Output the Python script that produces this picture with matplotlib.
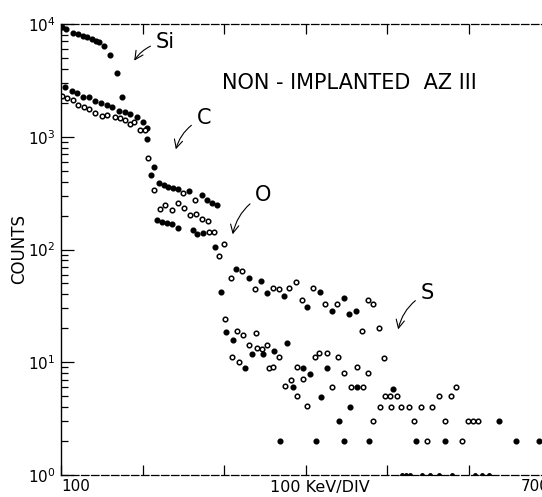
import matplotlib
matplotlib.use("Agg")
import matplotlib.pyplot as plt
from matplotlib.ticker import LogLocator, NullFormatter

# channel (energy) / counts
# filled markers
top_ch = [101, 106, 115, 121, 127, 132, 138, 143, 147, 153, 160, 169, 175]
top_counts = [9400, 9030, 8320, 8150, 7830, 7670, 7360, 7070, 6920, 6380, 5310, 3670, 2250]

band_ch = [105, 113, 120, 127, 134, 142, 149, 156, 163, 171, 179, 185, 193, 201, 206]
band_counts = [2760, 2550, 2450, 2250, 2250, 2080, 1990, 1910, 1840, 1690, 1660, 1590, 1500, 1350, 1200]

filled_ch = [206, 214, 210,
             220, 226, 231, 237, 244, 257, 273, 279, 285, 291,
             218, 224, 230, 236, 244, 262, 267, 274,
             289, 296, 302,
             315, 331, 345, 353, 374, 418, 402, 433, 447, 453, 462,
             311, 361, 377, 326, 334, 348, 397, 406, 426,
             385, 463, 507, 419, 455, 441, 637,
             369, 413, 447, 478, 536, 571, 658, 687]
filled_counts = [955, 539, 458,
                 389, 373, 358, 351, 344, 330, 304, 275, 259, 248,
                 183, 175, 172, 168, 155, 149, 137, 140,
                 105, 42, 18.5,
                 67, 56, 53, 41, 39, 42, 31, 28.5, 37, 27, 28.5,
                 15.7, 12.6, 14.8, 8.9, 11.8, 11.8, 8.9, 7.9, 8.9,
                 6.0, 6.0, 5.8, 4.9, 4.0, 3.0, 3.0,
                 2, 2, 2, 2, 2, 2, 2, 2]

# open markers
open_ch = [101, 107, 115, 121, 128, 134, 142, 150, 157, 166, 172, 178, 185, 190, 197, 203,
           207, 214, 250, 264,
           221, 228, 236, 244, 251, 258, 266, 273, 280, 282, 288,
           300, 294, 301,
           322, 309, 338, 360, 367, 380, 388, 409, 396, 424, 439, 477, 483,
           316, 323, 339, 331, 340, 347, 353, 367, 310, 318, 355, 360,
           412, 417, 426, 440, 390, 447, 463, 477, 496, 490, 469,
           382, 375, 397, 433, 456, 471, 390, 402,
           498, 504, 512, 491, 505, 517, 527, 542, 555, 564, 579, 585,
           483, 533, 571, 599, 606, 612, 549, 592]
open_counts = [2300, 2210, 2120, 1910, 1840, 1760, 1630, 1530, 1560, 1500, 1470, 1410, 1300, 1350, 1150, 1150,
               648, 337, 317, 275,
               229, 248, 224, 259, 233, 202, 206, 187, 179, 143, 143,
               112, 88, 24,
               64, 56, 45, 46, 45, 46, 52, 46, 36, 33, 33, 36, 33,
               19, 17.5, 18, 14.2, 13.4, 13.1, 14.2, 11.1, 11.1, 10.0, 8.9, 9.1,
               11.1, 12.1, 12.1, 11.1, 9.1, 8.0, 9.1, 8.0, 10.9, 20.1, 19,
               7.0, 6.2, 7.1, 6.0, 6.0, 6.0, 5.0, 4.1,
               5.0, 5.0, 5.0, 4.0, 4.0, 4.0, 4.0, 4.0, 4.0, 5.0, 5.0, 6.0,
               3.0, 3.0, 3.0, 3.0, 3.0, 3.0, 2, 2]

# single-count points sitting on the axis
base_ch = [518, 523, 528, 543, 553, 564, 580, 608, 617, 625]
base_counts = [1] * len(base_ch)

fig = plt.figure(figsize=(5.42, 4.97), dpi=100)
ax = fig.add_axes([61 / 542, 22 / 497, 489 / 542, 451 / 497])

mk = dict(linestyle="none", marker="o", markersize=3.3, markeredgewidth=1.1, markeredgecolor="black")
ax.plot(top_ch, top_counts, markerfacecolor="black", **mk)
ax.plot(band_ch, band_counts, markerfacecolor="black", **mk)
ax.plot(filled_ch, filled_counts, markerfacecolor="black", **mk)
ax.plot(open_ch, open_counts, markerfacecolor="white", **mk)
ax.plot(base_ch, base_counts, markerfacecolor="black", markersize=2.5, linestyle="none", marker="o",
        markeredgecolor="black")

ax.set_yscale("log")
ax.set_xlim(100, 700)
ax.set_ylim(1, 1e4)

ax.yaxis.set_major_locator(LogLocator(base=10))
ax.yaxis.set_minor_locator(LogLocator(base=10, subs=range(2, 10)))
ax.yaxis.set_minor_formatter(NullFormatter())
ax.set_xticks(range(100, 701, 100))
ax.set_xticklabels(["100", "", "", "", "", "", "700"])

ax.tick_params(which="both", direction="in", top=True, right=False, labelsize=11, width=0.9)
ax.tick_params(axis="y", which="major", length=9, pad=4)
ax.tick_params(axis="y", which="minor", length=5)
ax.tick_params(axis="x", length=7, pad=3)

labels = ax.get_xticklabels()
labels[0].set_horizontalalignment("left")
labels[-1].set_horizontalalignment("right")

ax.spines["right"].set_visible(False)
for s in ["top", "bottom"]:
    ax.spines[s].set_linestyle((0, (6, 2)))
    ax.spines[s].set_linewidth(0.9)
ax.spines["left"].set_linewidth(1.0)

ax.set_ylabel("COUNTS", fontsize=12)
ax.yaxis.set_label_coords(-0.068, 0.5)
ax.text(0.53, -0.028, "100 KeV/DIV", transform=ax.transAxes, fontsize=11.5, ha="center", va="center")
ax.text(0.33, 0.87, "NON - IMPLANTED  AZ III", transform=ax.transAxes, fontsize=15, ha="left", va="center")

arrow = dict(arrowstyle="->", color="black", lw=0.8, connectionstyle="arc3,rad=0.25")
ax.annotate("Si", xy=(188, 4510), xytext=(228, 6920), fontsize=15, ha="center", va="center", arrowprops=arrow)
ax.annotate("C", xy=(240, 732), xytext=(275, 1466), fontsize=15, ha="center", va="center", arrowprops=arrow)
ax.annotate("O", xy=(310, 129), xytext=(348, 304), fontsize=15, ha="center", va="center", arrowprops=arrow)
ax.annotate("S", xy=(513, 18.5), xytext=(549, 41), fontsize=15, ha="center", va="center", arrowprops=arrow)

fig.savefig("out.png", dpi=100)
